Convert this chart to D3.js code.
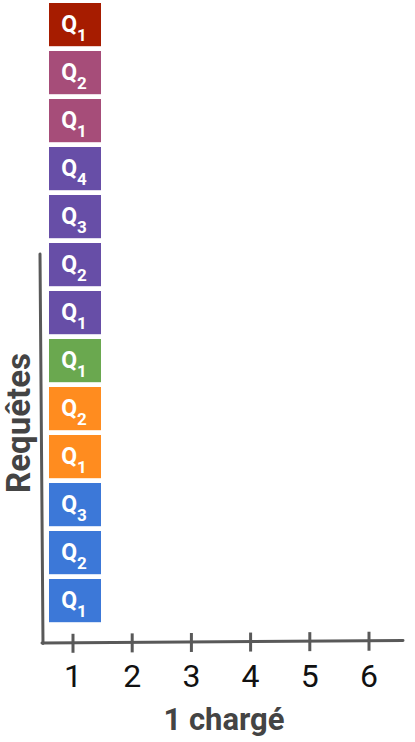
<!DOCTYPE html>
<html>
<head>
<meta charset="utf-8">
<script src="https://cdn.jsdelivr.net/npm/d3@7"></script>
<style>
  html, body { margin: 0; padding: 0; background: #fff; }
  svg { display: block; }
  text { font-family: Roboto, "Noto Sans", sans-serif; }
</style>
</head>
<body>
<svg id="chart" width="415" height="742"></svg>
<script>
// ---- data (bottom to top) ----
const queryIds   = [1, 2, 3, 1, 2, 1, 1, 2, 3, 4, 1, 2, 1];
const groups     = ["g1","g1","g1","g2","g2","g3","g4","g4","g4","g4","g5","g5","g6"];
const chargeVals = [1, 1, 1, 1, 1, 1, 1, 1, 1, 1, 1, 1, 1];
const groupNames  = ["g1","g2","g3","g4","g5","g6"];
const groupColors = ["#3c78d8","#ff8c1f","#6aa84f","#674ea7","#a64d79","#a61c00"];
const xTicks = [1, 2, 3, 4, 5, 6];
const xTitle = "1 chargé";
const yTitle = "Requêtes";

const svg = d3.select("#chart");
const color = d3.scaleOrdinal().domain(groupNames).range(groupColors);

const x = d3.scaleLinear().domain([1, 6]).range([73, 369]);
const y = d3.scaleBand()
  .domain(d3.range(queryIds.length))
  .range([624.6, 0.6])
  .paddingInner(0.1)
  .paddingOuter(0.05);

const boxW = 52;
const axisColor = "#595959";

// axes (slightly hand-drawn tilt like the reference)
svg.append("line")
  .attr("x1", 40).attr("y1", 254)
  .attr("x2", 43).attr("y2", 643.5)
  .attr("stroke", axisColor).attr("stroke-width", 3).attr("stroke-linecap", "round");
const xAxisY = v => 643 - (x(v) - 43) / (403 - 43) * 2.5;
svg.append("line")
  .attr("x1", 42).attr("y1", 643)
  .attr("x2", 403).attr("y2", 640.5)
  .attr("stroke", axisColor).attr("stroke-width", 3).attr("stroke-linecap", "round");

svg.append("g").selectAll("line").data(xTicks).join("line")
  .attr("x1", d => x(d)).attr("x2", d => x(d))
  .attr("y1", d => xAxisY(d) - 9).attr("y2", d => xAxisY(d) + 10)
  .attr("stroke", axisColor).attr("stroke-width", 3);

svg.append("g").selectAll("text").data(xTicks).join("text")
  .attr("x", d => x(d)).attr("y", 687)
  .attr("text-anchor", "middle")
  .attr("font-size", 32)
  .attr("fill", "#111")
  .text(d => d);

svg.append("text")
  .attr("x", 224).attr("y", 730)
  .attr("text-anchor", "middle")
  .attr("font-size", 31).attr("font-weight", "bold")
  .attr("fill", "#444")
  .text(xTitle);

svg.append("text")
  .attr("transform", "translate(30,423) rotate(-90)")
  .attr("text-anchor", "middle")
  .attr("font-size", 33).attr("font-weight", "bold")
  .attr("fill", "#444")
  .text(yTitle);

// boxes
const boxes = svg.append("g").selectAll("g").data(queryIds.map((q, i) => ({q, i, g: groups[i], v: chargeVals[i]})))
  .join("g");

boxes.append("rect")
  .attr("x", d => x(d.v) + 2 - boxW / 2)
  .attr("y", d => y(d.i))
  .attr("width", boxW)
  .attr("height", y.bandwidth())
  .attr("fill", d => color(d.g));

const lbl = boxes.append("text")
  .attr("x", d => x(d.v) + 1)
  .attr("y", d => y(d.i) + y.bandwidth() / 2 + 7)
  .attr("text-anchor", "middle")
  .attr("fill", "#fff")
  .attr("font-weight", "bold");
lbl.append("tspan").attr("font-size", 23).text("Q");
lbl.append("tspan").attr("font-size", 17).attr("dy", 9).text(d => d.q);
</script>
</body>
</html>
